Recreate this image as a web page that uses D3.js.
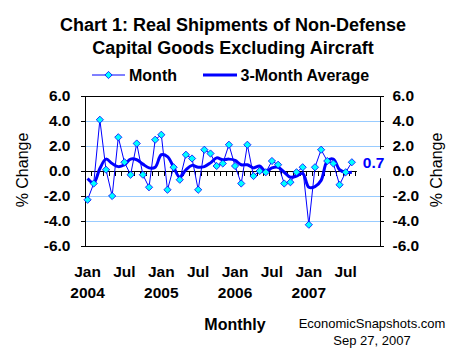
<!DOCTYPE html>
<html><head><meta charset="utf-8">
<script src="https://cdn.jsdelivr.net/npm/d3@7"></script>
<style>html,body{margin:0;padding:0;background:#fff;}svg{display:block;font-family:"Liberation Sans",Arial,sans-serif;}</style>
</head><body>
<script>
const months = [];
const monthNames = ["Jan","Feb","Mar","Apr","May","Jun","Jul","Aug","Sep","Oct","Nov","Dec"];
const years = [2004, 2005, 2006, 2007];
years.forEach(y => monthNames.forEach(m => months.push(m + " " + y)));

const monthly = [
  -2.3, -1.0, 4.1, 0.1, -2.0, 2.7, 0.7, -0.3, 2.2, -0.3, -1.3, 2.5,
  2.9, -1.5, 0.3, -0.7, 1.3, 1.0, -1.5, 1.7, 1.4, 0.4, 0.6, 2.1,
  0.4, -1.0, 2.1, -0.4, 0.0, -0.1, 0.8, 0.5, -1.0, -0.9, -0.1, 0.3,
  -4.3, 0.3, 1.7, 0.8, 0.6, -1.1, -0.1, 0.7
];
const avg3 = [
  -0.6, -0.95, 0.2, 0.95, 0.6, 0.35, 0.5, 0.95, 0.9, 0.55, 0.25, 0.3,
  1.3, 1.15, 0.3, -0.5, 0.1, 0.45, 0.3, 0.35, 0.65, 1.05, 0.9, 0.95,
  0.85, 0.5, 0.5, 0.25, 0.4, -0.05, 0.25, 0.3, -0.1, -0.5, -0.4, -0.2,
  -1.3, -1.25, -0.75, 0.8, 0.95, 0.1, -0.1, -0.1
];
const yTicks = [-6, -4, -2, 0, 2, 4, 6];
const gridVals = [-4, -2, 2, 4];
const xLabelIdx = [0, 6, 12, 18, 24, 30, 36, 42];
const titleLines = ["Chart 1: Real Shipments of Non-Defense", "Capital Goods Excluding Aircraft"];
const lastLabel = "0.7";

const W = 465, H = 360;
const L = 84.5, R = 379.5, T = 96, B = 246;

const svg = d3.select("body").append("svg").attr("width", W).attr("height", H);
svg.append("rect").attr("width", W).attr("height", H).attr("fill", "#fff");

const x = d3.scaleBand().domain(months).range([L, R]).padding(0);
const xi = d3.scaleLinear().domain([0, months.length]).range([L, R]);
const y = d3.scaleLinear().domain([-6, 6]).range([B, T]);
const cx = i => x(months[i]) + x.bandwidth() / 2;

// gridlines
svg.append("g").selectAll("line").data(gridVals).join("line")
  .attr("x1", L).attr("x2", R).attr("y1", d => y(d)).attr("y2", d => y(d))
  .attr("stroke", "#99CCFF").attr("stroke-width", 1).attr("shape-rendering", "crispEdges");

// frame top / bottom
svg.append("line").attr("x1", L).attr("x2", R).attr("y1", y(6)).attr("y2", y(6)).attr("stroke", "#000").attr("shape-rendering", "crispEdges");
svg.append("line").attr("x1", L).attr("x2", R).attr("y1", y(-6)).attr("y2", y(-6)).attr("stroke", "#000").attr("shape-rendering", "crispEdges");

// zero axis with category ticks
const xAxis = svg.append("g").attr("transform", `translate(0,${y(0)})`)
  .call(d3.axisBottom(xi).tickValues(d3.range(0, months.length + 1)).tickSize(5).tickSizeOuter(0).tickFormat(""));
xAxis.selectAll("path,line").attr("stroke", "#000").attr("shape-rendering", "crispEdges");

const fmt = d => d.toFixed(1);
// left axis
const la = svg.append("g").attr("transform", `translate(${L},0)`)
  .call(d3.axisLeft(y).tickValues(yTicks).tickSize(4).tickSizeOuter(0).tickPadding(10).tickFormat(fmt));
la.selectAll("path,line").attr("stroke", "#000").attr("shape-rendering", "crispEdges");
la.selectAll("text").attr("font-size", 15.5).attr("font-weight", "bold").attr("fill", "#000").attr("font-family", "Liberation Sans, Arial, sans-serif");
// right axis
const ra = svg.append("g").attr("transform", `translate(${R},0)`)
  .call(d3.axisRight(y).tickValues(yTicks).tickSize(4).tickSizeOuter(0).tickPadding(9).tickFormat(fmt));
ra.selectAll("path,line").attr("stroke", "#000").attr("shape-rendering", "crispEdges");
ra.selectAll("text").attr("font-size", 15.5).attr("font-weight", "bold").attr("fill", "#000").attr("font-family", "Liberation Sans, Arial, sans-serif");

// x labels
const xl = svg.append("g").attr("font-weight", "bold").attr("font-size", 15.5).attr("text-anchor", "middle");
xl.selectAll("text.m").data(xLabelIdx).join("text").attr("class", "m")
  .attr("x", d => cx(d)).attr("y", 277).text(d => months[d].split(" ")[0]);
xl.selectAll("text.y").data(xLabelIdx.filter(d => d % 12 === 0)).join("text").attr("class", "y")
  .attr("x", d => cx(d)).attr("y", 298).text(d => months[d].split(" ")[1]);

// series
const avgLine = d3.line().x((d, i) => cx(i)).y(d => y(d)).curve(d3.curveCatmullRom.alpha(0.5));
svg.append("path").datum(avg3).attr("d", avgLine).attr("fill", "none").attr("stroke", "#0000FF").attr("stroke-width", 3).attr("stroke-linejoin", "round");
const mLine = d3.line().x((d, i) => cx(i)).y(d => y(d));
svg.append("path").datum(monthly).attr("d", mLine).attr("fill", "none").attr("stroke", "#0000FF").attr("stroke-width", 1);
const diamond = s => `M0,${-s}L${s},0L0,${s}L${-s},0Z`;
svg.append("g").selectAll("path").data(monthly).join("path")
  .attr("transform", (d, i) => `translate(${cx(i)},${y(d)})`)
  .attr("d", diamond(3.6)).attr("fill", "#00FFFF").attr("stroke", "#0000FF").attr("stroke-width", 0.8);

// data label
const li = monthly.length - 1;
svg.append("rect").attr("x", cx(li) + 5).attr("y", y(monthly[li]) - 13).attr("width", 36).attr("height", 29).attr("fill", "#fff");
svg.append("text").attr("x", cx(li) + 11).attr("y", y(monthly[li]) + 6)
  .attr("font-size", 15.5).attr("font-weight", "bold").attr("fill", "#0000FF").text(lastLabel);

// titles
svg.append("g").attr("font-weight", "bold").attr("font-size", 18).attr("text-anchor", "middle")
  .selectAll("text").data(titleLines).join("text")
  .attr("x", 233).attr("y", (d, i) => 30.5 + i * 23).text(d => d);

// legend
const lg = svg.append("g").attr("font-weight", "bold").attr("font-size", 16);
lg.append("line").attr("x1", 92).attr("x2", 125).attr("y1", 75).attr("y2", 75).attr("stroke", "#0000FF").attr("stroke-width", 1);
lg.append("path").attr("transform", "translate(108.5,75)").attr("d", diamond(3.6)).attr("fill", "#00FFFF").attr("stroke", "#0000FF").attr("stroke-width", 0.8);
lg.append("text").attr("x", 129).attr("y", 81).text("Month");
lg.append("line").attr("x1", 203).attr("x2", 237).attr("y1", 75).attr("y2", 75).attr("stroke", "#0000FF").attr("stroke-width", 3);
lg.append("text").attr("x", 240.5).attr("y", 81).text("3-Month Average");

// axis titles
svg.append("text").attr("transform", "translate(28,170) rotate(-90)").attr("text-anchor", "middle").attr("font-size", 16).text("% Change");
svg.append("text").attr("transform", "translate(442,170) rotate(-90)").attr("text-anchor", "middle").attr("font-size", 16).text("% Change");

// footer
svg.append("text").attr("x", 235).attr("y", 330).attr("text-anchor", "middle").attr("font-weight", "bold").attr("font-size", 16).text("Monthly");
svg.append("text").attr("x", 372).attr("y", 328).attr("text-anchor", "middle").attr("font-size", 13).text("EconomicSnapshots.com");
svg.append("text").attr("x", 372).attr("y", 345).attr("text-anchor", "middle").attr("font-size", 13).text("Sep 27, 2007");
</script>
</body></html>
